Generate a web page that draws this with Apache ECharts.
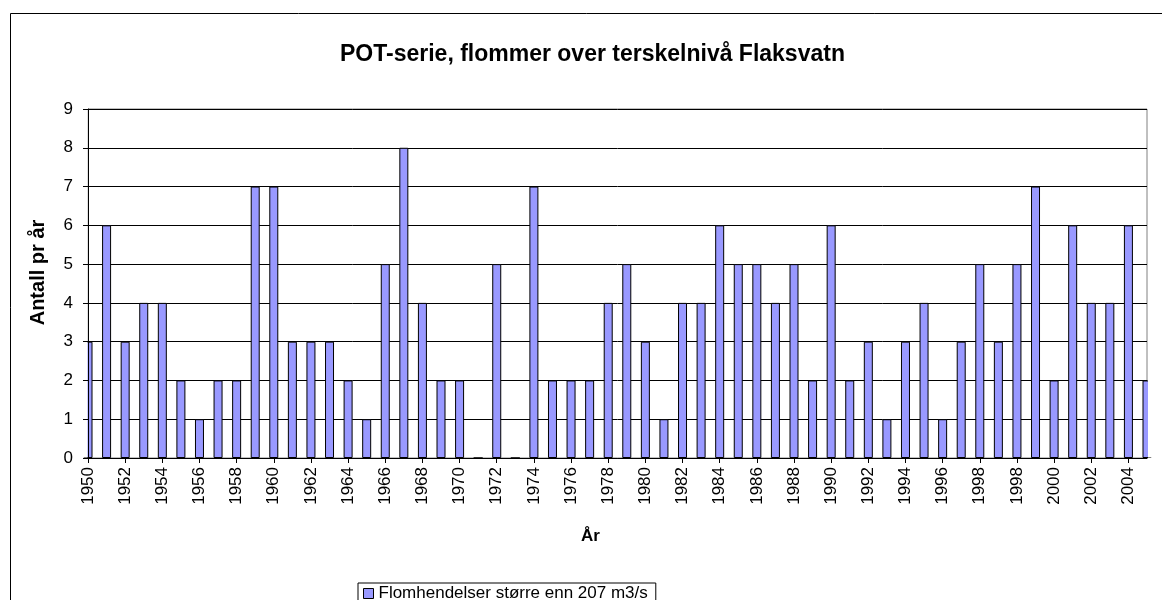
<!DOCTYPE html>
<html>
<head>
<meta charset="utf-8">
<title>POT-serie Flaksvatn</title>
<script src="https://cdn.jsdelivr.net/npm/echarts@6/dist/echarts.min.js"></script>
<style>
  html, body { margin: 0; padding: 0; background: #fff; }
  #chart { width: 1162px; height: 600px; }
</style>
</head>
<body>
<div id="chart"></div>
<script>
// kategorier (år) - aksen i originalen har 1998 to ganger
var years = [
  '1950','1951','1952','1953','1954','1955','1956','1957','1958','1959',
  '1960','1961','1962','1963','1964','1965','1966','1967','1968','1969',
  '1970','1971','1972','1973','1974','1975','1976','1977','1978','1979',
  '1980','1981','1982','1983','1984','1985','1986','1987','1988','1989',
  '1990','1991','1992','1993','1994','1995','1996','1997','1998','1997',
  '1998','1999','2000','2001','2002','2003','2004','2005'
];

// antall flomhendelser pr år
var antall = [
  3, 6, 3, 4, 4, 2, 1, 2, 2, 7,
  7, 3, 3, 3, 2, 1, 5, 8, 4, 2,
  2, 0, 5, 0, 7, 2, 2, 2, 4, 5,
  3, 1, 4, 4, 6, 5, 5, 4, 5, 2,
  6, 2, 3, 1, 3, 4, 1, 3, 5, 3,
  5, 7, 2, 6, 4, 4, 6, 2
];

var yTicks = [0, 1, 2, 3, 4, 5, 6, 7, 8, 9];

var font = 'Liberation Sans, Arial, sans-serif';
var serieNavn = 'Flomhendelser større enn 207 m3/s';

var myChart = echarts.init(document.getElementById('chart'));

// felles skala for de to y-aksene (rutenett under, akselinje over)
var yBase = {
    type: 'value',
    min: yTicks[0],
    max: yTicks[yTicks.length - 1],
    interval: 1,
    position: 'left'
};

var option = {
    animation: false,
    backgroundColor: '#fff',
    textStyle: { fontFamily: font },
    title: {
        text: 'POT-serie, flommer over terskelnivå Flaksvatn',
        left: 335,
        top: 38,
        textStyle: { fontSize: 23, fontWeight: 'bold', color: '#000', fontFamily: font }
    },
    graphic: [
        {   // ytre ramme rundt diagrammet
            type: 'rect',
            shape: { x: 10.5, y: 13.5, width: 1160, height: 600 },
            style: { fill: 'none', stroke: '#000', lineWidth: 1 },
            silent: true, z: 0
        },
        {   // skjul halve søyla utenfor plottet til venstre
            type: 'rect',
            shape: { x: 78, y: 100, width: 9.5, height: 357.5 },
            style: { fill: '#fff' },
            silent: true, z: 3
        },
        {   // og til høyre
            type: 'rect',
            shape: { x: 1148, y: 100, width: 10, height: 357.5 },
            style: { fill: '#fff' },
            silent: true, z: 3
        }
    ],
    legend: {
        data: [serieNavn],
        left: 358,
        top: 583,
        itemWidth: 10,
        itemHeight: 10,
        itemGap: 6,
        padding: [2, 8, 6, 5],
        borderColor: '#000',
        borderWidth: 1,
        icon: 'rect',
        itemStyle: { borderColor: '#000', borderWidth: 1 },
        textStyle: { fontSize: 17, color: '#000', fontFamily: font }
    },
    grid: {
        left: 88, right: 15, top: 109, bottom: 142,
        show: true, borderColor: '#808080', borderWidth: 1
    },
    xAxis: {
        type: 'category',
        data: years,
        boundaryGap: false,
        name: 'År',
        nameLocation: 'middle',
        nameGap: 70,
        nameTextStyle: { fontSize: 17, fontWeight: 'bold', color: '#000', padding: [0, 54, 0, 0] },
        axisLine: { lineStyle: { color: '#000', width: 1 } },
        axisTick: { interval: 1, length: 5, lineStyle: { color: '#000' } },
        axisLabel: { interval: 1, rotate: 90, fontSize: 17, color: '#000', margin: 9 },
        splitLine: { show: false },
        z: 5
    },
    yAxis: [
        Object.assign({}, yBase, {
            axisLine: { show: false },
            axisTick: { show: false },
            axisLabel: { show: false },
            splitLine: { lineStyle: { color: '#000', width: 1 } },
            z: 0
        }),
        Object.assign({}, yBase, {
            name: 'Antall pr år',
            nameLocation: 'middle',
            nameGap: 40,
            nameTextStyle: { fontSize: 20, fontWeight: 'bold', color: '#000', padding: [0, 0, 0, 22] },
            axisLine: { show: true, lineStyle: { color: '#000', width: 1 } },
            axisTick: { show: true, length: 5, lineStyle: { color: '#000' } },
            axisLabel: { fontSize: 17, color: '#000', margin: 15 },
            splitLine: { show: false },
            z: 5
        })
    ],
    series: [{
        name: serieNavn,
        type: 'bar',
        data: antall,
        yAxisIndex: 0,
        barWidth: 9,
        z: 2,
        itemStyle: { color: '#9999ff', borderColor: '#000', borderWidth: 1 }
    }]
};

myChart.setOption(option);
</script>
</body>
</html>
